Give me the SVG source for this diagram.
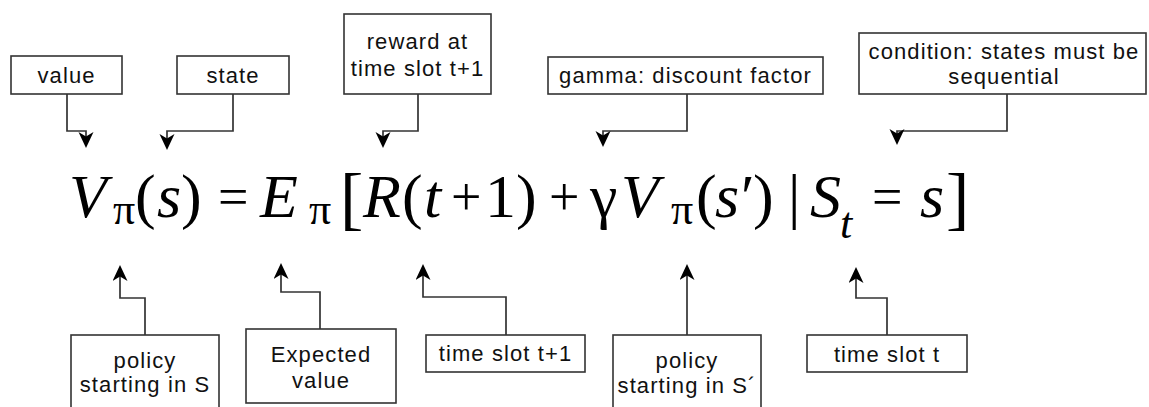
<svg xmlns="http://www.w3.org/2000/svg" width="1149" height="407" viewBox="0 0 1149 407">
<style>
.box{fill:#fff;stroke:#333;stroke-width:1.6}
.lbl{font-family:"Liberation Sans",Arial,sans-serif;font-size:22px;letter-spacing:1.1px;fill:#111;text-anchor:middle}
.con{fill:none;stroke:#333;stroke-width:1.7}
.eq{font-family:"Liberation Serif","Times New Roman",serif;font-size:62px;fill:#000}
.it{font-style:italic}
.sub{font-size:44px}
.br{font-size:70px}
.op{font-size:54px}
</style>
<defs>
<marker id="ah" markerUnits="userSpaceOnUse" markerWidth="18" markerHeight="16" refX="11" refY="7.5" orient="auto">
<path d="M0,0 L16,7.5 L0,15 L4.5,7.5 Z" fill="#000"/>
</marker>
</defs>
<rect width="1149" height="407" fill="#fff"/>
<g id="connectors">
<path class="con" marker-end="url(#ah)" d="M67,94 V131 H86 V143"/>
<path class="con" marker-end="url(#ah)" d="M233,94 V131 H167 V145"/>
<path class="con" marker-end="url(#ah)" d="M418,94 V131 H383 V143"/>
<path class="con" marker-end="url(#ah)" d="M687,94 V131 H603 V142"/>
<path class="con" marker-end="url(#ah)" d="M1007,94 V131 H897 V140"/>
<path class="con" marker-end="url(#ah)" d="M145,335 V298 H120 V270"/>
<path class="con" marker-end="url(#ah)" d="M320,329 V292 H281 V268"/>
<path class="con" marker-end="url(#ah)" d="M506,335 V297 H423 V269"/>
<path class="con" marker-end="url(#ah)" d="M687,335 V269"/>
<path class="con" marker-end="url(#ah)" d="M887,335 V298 H856 V272"/>
</g>
<g id="value"><rect class="box" x="11" y="56" width="111" height="38"/><text class="lbl" x="66.5" y="83">value</text></g>
<g id="state"><rect class="box" x="177" y="56" width="112" height="38"/><text class="lbl" x="233" y="83">state</text></g>
<g id="reward"><rect class="box" x="344" y="14" width="147" height="80"/><text class="lbl" x="417.5" y="49">reward at</text><text class="lbl" x="417.5" y="76">time slot t+1</text></g>
<g id="gamma"><rect class="box" x="548" y="57" width="275" height="37"/><text class="lbl" x="685.5" y="83">gamma: discount factor</text></g>
<g id="condition"><rect class="box" x="859" y="33" width="287" height="61"/><text class="lbl" x="1004" y="59">condition: states must be</text><text class="lbl" x="1004" y="84">sequential</text></g>
<g id="policy-s"><rect class="box" x="71" y="335" width="148" height="76"/><text class="lbl" x="145" y="368">policy</text><text class="lbl" x="145" y="392">starting in S</text></g>
<g id="expected"><rect class="box" x="246" y="329" width="150" height="74"/><text class="lbl" x="321" y="362">Expected</text><text class="lbl" x="321" y="388">value</text></g>
<g id="time-t1"><rect class="box" x="426" y="335" width="159" height="37"/><text class="lbl" x="505.5" y="361">time slot t+1</text></g>
<g id="policy-s2"><rect class="box" x="613" y="335" width="148" height="76"/><text class="lbl" x="687" y="368">policy</text><text class="lbl" x="687" y="393">starting in S´</text></g>
<g id="time-t"><rect class="box" x="807" y="335" width="160" height="37"/><text class="lbl" x="887" y="362">time slot t</text></g>
<g id="equation">
<text class="eq" y="217"><tspan class="it" x="69">V</tspan><tspan class="sub" x="113" y="224">π</tspan><tspan x="135" y="217">(</tspan><tspan class="it" x="157">s</tspan><tspan x="181">)</tspan><tspan class="op" x="218" y="215">=</tspan><tspan class="it" x="260" y="217">E</tspan><tspan class="sub" x="309" y="224">π</tspan><tspan class="br" x="340" y="222">[</tspan><tspan class="it" x="363" y="217">R</tspan><tspan x="402">(</tspan><tspan class="it" x="424">t</tspan><tspan class="op" x="451" y="215">+</tspan><tspan x="485" y="217">1</tspan><tspan x="516">)</tspan><tspan class="op" x="549" y="215">+</tspan><tspan x="590" y="217">γ</tspan><tspan class="it" x="621">V</tspan><tspan class="sub" x="671" y="224">π</tspan><tspan x="696" y="217">(</tspan><tspan class="it" x="715">s</tspan><tspan x="741">′</tspan><tspan x="753">)</tspan><tspan x="788">|</tspan><tspan class="it" x="810">S</tspan><tspan class="it sub" x="840" y="238">t</tspan><tspan class="op" x="872" y="215">=</tspan><tspan class="it" x="920" y="217">s</tspan><tspan class="br" x="946" y="222">]</tspan></text>
</g>
</svg>
